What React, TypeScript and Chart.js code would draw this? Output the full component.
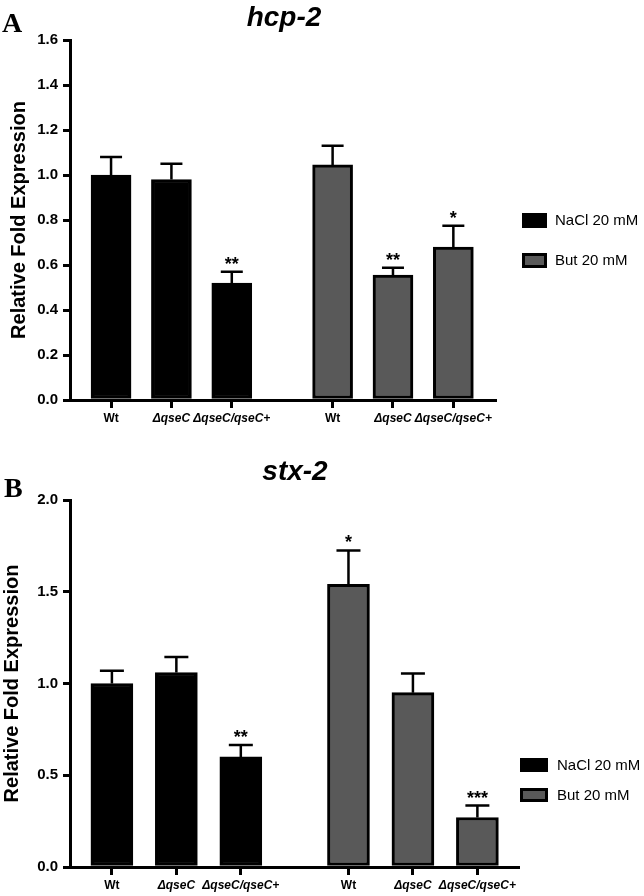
import React, { useEffect, useRef } from 'react';
import { Chart, registerables } from 'chart.js';
Chart.register(...registerables);

const FONT = "'Liberation Sans', Arial, Helvetica, sans-serif";
const SERIF = "'Liberation Serif', 'Times New Roman', serif";

// ---- data ----
const xLabels = ['Wt', 'ΔqseC', 'ΔqseC/qseC+', 'Wt', 'ΔqseC', 'ΔqseC/qseC+'];
const naclPositions = [1, 2, 3];
const butPositions = [4.67, 5.67, 6.67];
const seriesNames = ['NaCl 20 mM', 'But 20 mM'];

const hcp2NaCl = [1.0, 0.98, 0.52];
const hcp2NaClErr = [0.08, 0.07, 0.05];
const hcp2But = [1.045, 0.555, 0.68];
const hcp2ButErr = [0.085, 0.033, 0.095];
const hcp2NaClStars = ['', '', '**'];
const hcp2ButStars = ['', '**', '*'];

const stx2NaCl = [1.0, 1.06, 0.6];
const stx2NaClErr = [0.07, 0.085, 0.065];
const stx2But = [1.54, 0.95, 0.27];
const stx2ButErr = [0.185, 0.105, 0.065];
const stx2NaClStars = ['', '', '**'];
const stx2ButStars = ['*', '', '***'];

const NACL_COLOR = '#000000';
const BUT_COLOR = '#595959';

type PanelCfg = {
  letter: string;
  title: string;
  nacl: number[];
  naclErr: number[];
  naclStars: string[];
  but: number[];
  butErr: number[];
  butStars: string[];
  yMax: number;
  yStep: number;
  xMin: number;
  xMax: number;
  height: number;
  top: number;
  padTop: number;
  padRight: number;
  xAxisH: number;
  barW: number;
  capW: number;
  yTitlePad: number;
  titleX: number;
  titleY: number;
  letterX: number;
  letterY: number;
  legX: number;
  legY: number;
  legGap: number;
  legW: number;
  legH: number;
  legTextX: number;
};

const panels: PanelCfg[] = [
  {
    letter: 'A', title: 'hcp-2',
    nacl: hcp2NaCl, naclErr: hcp2NaClErr, naclStars: hcp2NaClStars,
    but: hcp2But, butErr: hcp2ButErr, butStars: hcp2ButStars,
    yMax: 1.6, yStep: 0.2, xMin: 0.32, xMax: 7.36,
    height: 430, top: 0, padTop: 40, padRight: 149, xAxisH: 30,
    barW: 40, capW: 22, yTitlePad: 7.5,
    titleX: 284, titleY: 26, letterX: 2, letterY: 32,
    legX: 522, legY: 213, legGap: 40, legW: 25, legH: 15, legTextX: 555,
  },
  {
    letter: 'B', title: 'stx-2',
    nacl: stx2NaCl, naclErr: stx2NaClErr, naclStars: stx2NaClStars,
    but: stx2But, butErr: stx2ButErr, butStars: stx2ButStars,
    yMax: 2.0, yStep: 0.5, xMin: 0.35, xMax: 7.3,
    height: 466, top: 430, padTop: 70, padRight: 126, xAxisH: 29,
    barW: 42, capW: 24, yTitlePad: 0.5,
    titleX: 295, titleY: 50, letterX: 4, letterY: 67,
    legX: 520, legY: 328, legGap: 30, legW: 28, legH: 14, legTextX: 557,
  },
];

function makeExtras(cfg: PanelCfg) {
  return {
    id: 'extras',
    afterDatasetsDraw(chart: any) {
      const ctx = chart.ctx;
      const ys = chart.scales.y;
      const errs = [cfg.naclErr, cfg.butErr];
      const stars = [cfg.naclStars, cfg.butStars];
      ctx.save();
      chart.data.datasets.forEach((ds: any, di: number) => {
        const meta = chart.getDatasetMeta(di);
        meta.data.forEach((el: any, i: number) => {
          const v = ds.data[i].y;
          const topY = ys.getPixelForValue(v + errs[di][i]);
          ctx.strokeStyle = '#000';
          ctx.lineWidth = 2.5;
          ctx.lineCap = 'butt';
          ctx.beginPath();
          ctx.moveTo(el.x, el.y);
          ctx.lineTo(el.x, topY);
          ctx.moveTo(el.x - cfg.capW / 2, topY);
          ctx.lineTo(el.x + cfg.capW / 2, topY);
          ctx.stroke();
          const s = stars[di][i];
          if (s) {
            ctx.fillStyle = '#000';
            ctx.font = `bold 18px ${FONT}`;
            ctx.textAlign = 'center';
            ctx.textBaseline = 'alphabetic';
            ctx.fillText(s, el.x, topY - 2);
          }
        });
      });
      ctx.restore();
    },
    afterDraw(chart: any) {
      const ctx = chart.ctx;
      ctx.save();
      // panel letter
      ctx.fillStyle = '#000';
      ctx.font = `bold 28px ${SERIF}`;
      ctx.textAlign = 'left';
      ctx.textBaseline = 'alphabetic';
      ctx.fillText(cfg.letter, cfg.letterX, cfg.letterY);
      // title
      ctx.font = `italic bold 28px ${FONT}`;
      ctx.textAlign = 'center';
      ctx.fillText(cfg.title, cfg.titleX, cfg.titleY);
      // legend
      const colors = [NACL_COLOR, BUT_COLOR];
      seriesNames.forEach((name, i) => {
        const y = cfg.legY + i * cfg.legGap;
        ctx.fillStyle = '#000';
        ctx.fillRect(cfg.legX, y, cfg.legW, cfg.legH);
        ctx.fillStyle = colors[i];
        ctx.fillRect(cfg.legX + 3, y + 3, cfg.legW - 6, cfg.legH - 6);
        ctx.fillStyle = '#000';
        ctx.font = `15px ${FONT}`;
        ctx.textAlign = 'left';
        ctx.textBaseline = 'middle';
        ctx.fillText(name, cfg.legTextX, y + cfg.legH / 2 + 0.5);
      });
      ctx.restore();
    },
  };
}

function Panel({ cfg }: { cfg: PanelCfg }) {
  const ref = useRef<HTMLCanvasElement | null>(null);
  useEffect(() => {
    if (!ref.current) return;
    const tickPositions = [...naclPositions, ...butPositions];
    const chart = new Chart(ref.current, {
      type: 'bar',
      data: {
        datasets: [
          {
            label: seriesNames[0],
            data: naclPositions.map((x, i) => ({ x, y: cfg.nacl[i] })),
            backgroundColor: NACL_COLOR,
            borderColor: '#000',
            borderWidth: 3,
            borderSkipped: false,
            barThickness: cfg.barW,
            grouped: false,
          } as any,
          {
            label: seriesNames[1],
            data: butPositions.map((x, i) => ({ x, y: cfg.but[i] })),
            backgroundColor: BUT_COLOR,
            borderColor: '#000',
            borderWidth: 3,
            borderSkipped: false,
            barThickness: cfg.barW,
            grouped: false,
          } as any,
        ],
      },
      options: {
        responsive: false,
        animation: false,
        devicePixelRatio: 1,
        layout: { padding: { top: cfg.padTop, right: cfg.padRight, left: 0, bottom: 0 } },
        plugins: {
          legend: { display: false },
          title: { display: false },
          tooltip: { enabled: false },
        },
        scales: {
          x: {
            type: 'linear',
            min: cfg.xMin,
            max: cfg.xMax,
            offset: false,
            afterBuildTicks: (scale: any) => {
              scale.ticks = tickPositions.map((v) => ({ value: v }));
            },
            afterFit: (scale: any) => {
              scale.height = cfg.xAxisH;
            },
            grid: {
              offset: false,
              drawOnChartArea: false,
              drawTicks: true,
              tickLength: 8,
              color: '#000',
              lineWidth: 3,
            },
            border: { display: true, color: '#000', width: 3 },
            ticks: {
              autoSkip: false,
              maxRotation: 0,
              minRotation: 0,
              padding: 3,
              color: '#000',
              callback: (_v: any, i: number) => xLabels[i],
              font: (ctx: any) => ({
                family: FONT,
                size: 12,
                weight: 'bold',
                style: ctx.index % 3 === 0 ? 'normal' : 'italic',
              }),
            },
          } as any,
          y: {
            min: 0,
            max: cfg.yMax,
            afterFit: (scale: any) => {
              scale.width = 70;
            },
            grid: {
              drawOnChartArea: false,
              drawTicks: true,
              tickLength: 7,
              color: '#000',
              lineWidth: 3,
            },
            border: { display: true, color: '#000', width: 3 },
            ticks: {
              stepSize: cfg.yStep,
              padding: 5,
              color: '#000',
              callback: (v: any) => Number(v).toFixed(1),
              font: { family: FONT, size: 15, weight: 'bold' },
            },
            title: {
              display: true,
              text: 'Relative Fold Expression',
              color: '#000',
              font: { family: FONT, size: 20, weight: 'bold' },
              padding: { top: cfg.yTitlePad, bottom: 0 },
            },
          } as any,
        },
      },
      plugins: [makeExtras(cfg)],
    } as any);
    return () => chart.destroy();
  }, [cfg]);
  return (
    <canvas
      ref={ref}
      width={644}
      height={cfg.height}
      style={{ position: 'absolute', left: 0, top: cfg.top, width: 644, height: cfg.height, display: 'block' }}
    />
  );
}

export default function App() {
  return (
    <div style={{ position: 'absolute', left: 0, top: 0, width: 644, height: 896, background: '#fff', overflow: 'hidden' }}>
      {panels.map((p) => (
        <Panel key={p.letter} cfg={p} />
      ))}
    </div>
  );
}
